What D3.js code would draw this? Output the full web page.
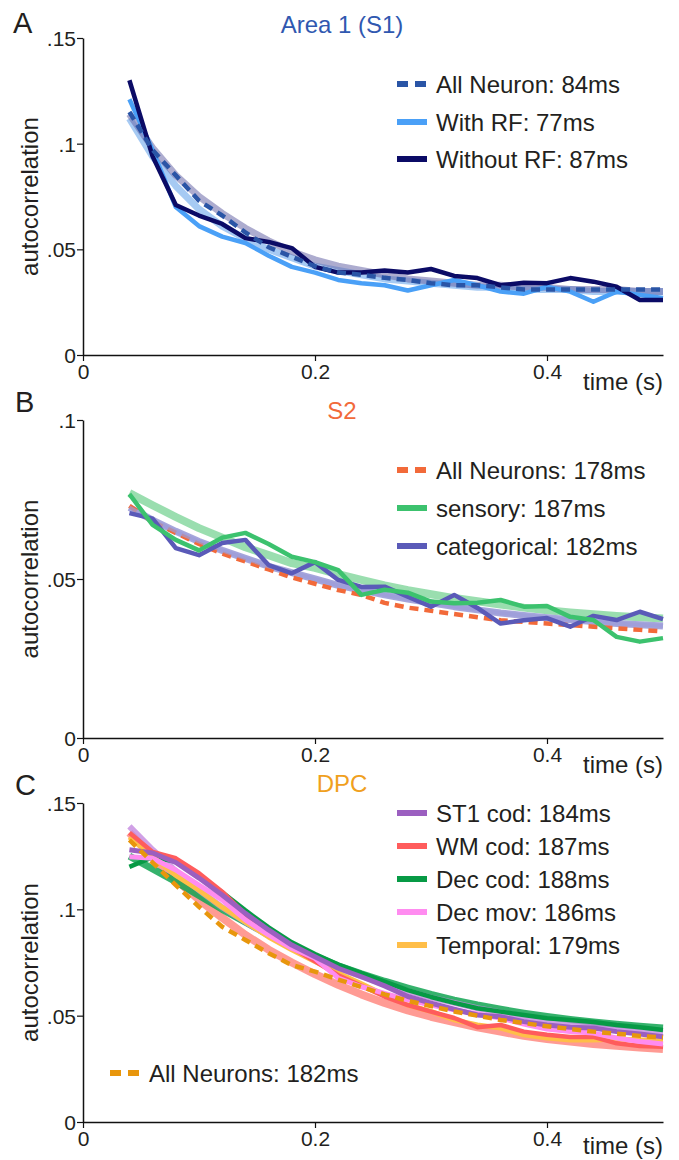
<!DOCTYPE html>
<html><head><meta charset="utf-8">
<script src="https://cdn.jsdelivr.net/npm/d3@7"></script>
<style>
body{margin:0;background:#fff;}
text{font-family:"Liberation Sans",Arial,sans-serif;fill:#231f20;}
</style></head>
<body><svg id="c" width="679" height="1160"></svg>
<script>
// ---------- DATA ----------
const lags = [0.04,0.06,0.08,0.10,0.12,0.14,0.16,0.18,0.20,0.22,0.24,0.26,0.28,0.30,0.32,0.34,0.36,0.38,0.40,0.42,0.44,0.46,0.48,0.50];
const xTicks = [0, 0.2, 0.4];
const xTickLabels = ["0", "0.2", "0.4"];

// Panel A: Area 1 (S1)
const aTicks = [0, 0.05, 0.1, 0.15];
const aTickLabels = ["0", ".05", ".1", ".15"];
const aAll      = [0.115,0.097,0.085,0.073,0.066,0.058,0.051,0.0465,0.042,0.039,0.038,0.0365,0.0355,0.034,0.033,0.033,0.032,0.031,0.031,0.031,0.031,0.031,0.031,0.031];
const aWithRF   = [0.121,0.097,0.070,0.061,0.056,0.053,0.047,0.0417,0.039,0.0355,0.034,0.033,0.0305,0.033,0.0355,0.033,0.030,0.029,0.0323,0.030,0.0252,0.030,0.0284,0.027];
const aWithout  = [0.130,0.094,0.071,0.066,0.062,0.0553,0.0535,0.0506,0.0417,0.039,0.039,0.040,0.039,0.0407,0.0374,0.0364,0.033,0.0342,0.034,0.0364,0.0347,0.0323,0.026,0.026];
const aFitWith  = [0.112,0.094,0.080,0.069,0.061,0.055,0.050,0.046,0.042,0.040,0.038,0.036,0.035,0.034,0.033,0.032,0.032,0.031,0.031,0.031,0.030,0.030,0.030,0.030];
const aFitAll   = [0.114,0.098,0.085,0.075,0.067,0.060,0.054,0.049,0.045,0.042,0.040,0.038,0.036,0.035,0.034,0.033,0.033,0.032,0.032,0.031,0.031,0.031,0.030,0.030];
const aLegend   = ["All Neuron: 84ms", "With RF: 77ms", "Without RF: 87ms"];

// Panel B: S2
const bTicks = [0, 0.05, 0.1];
const bTickLabels = ["0", ".05", ".1"];
const bAll      = [0.073,0.068,0.0645,0.061,0.058,0.0555,0.053,0.0505,0.0485,0.0465,0.045,0.0425,0.041,0.040,0.039,0.038,0.037,0.0365,0.036,0.0355,0.035,0.0345,0.034,0.0335];
const bSensory  = [0.0767,0.067,0.0623,0.059,0.063,0.0645,0.061,0.057,0.0553,0.0528,0.045,0.0466,0.0457,0.0429,0.0424,0.0425,0.0434,0.0413,0.0415,0.0381,0.0371,0.0318,0.0303,0.0314];
const bCateg    = [0.0707,0.069,0.0597,0.0575,0.0613,0.0623,0.0544,0.0518,0.0553,0.0497,0.0475,0.0476,0.0444,0.0413,0.045,0.0409,0.036,0.037,0.0377,0.035,0.0384,0.0371,0.0397,0.0374];
const bFitSens  = [0.077,0.0732,0.0695,0.066,0.063,0.060,0.0575,0.055,0.0535,0.0515,0.0497,0.048,0.0465,0.0452,0.044,0.043,0.042,0.041,0.0402,0.0395,0.0389,0.0384,0.038,0.0376];
const bFitCateg = [0.0725,0.0685,0.065,0.0618,0.059,0.0565,0.054,0.052,0.050,0.048,0.0465,0.045,0.0437,0.0425,0.0413,0.0403,0.0393,0.0385,0.0378,0.0372,0.0366,0.036,0.0356,0.0352];
const bLegend   = ["All Neurons: 178ms", "sensory: 187ms", "categorical: 182ms"];

// Panel C: DPC
const cTicks = [0, 0.05, 0.1, 0.15];
const cTickLabels = ["0", ".05", ".1", ".15"];
const cAll      = [0.1326,0.122,0.1114,0.1012,0.0918,0.0856,0.0794,0.0738,0.0707,0.067,0.0635,0.060,0.057,0.0545,0.052,0.050,0.048,0.0465,0.045,0.0437,0.0425,0.0415,0.0405,0.0397];
const cST1      = [0.128,0.1265,0.122,0.1147,0.1067,0.0981,0.0903,0.0832,0.0777,0.0723,0.0683,0.064,0.059,0.0559,0.053,0.0503,0.0495,0.0472,0.0456,0.0446,0.0442,0.0425,0.0414,0.0401];
const cWM       = [0.136,0.127,0.124,0.117,0.1083,0.0975,0.089,0.082,0.0755,0.069,0.064,0.059,0.055,0.0519,0.0489,0.0446,0.0456,0.0425,0.041,0.040,0.040,0.037,0.0357,0.0354];
const cDecCod   = [0.120,0.1245,0.1225,0.116,0.108,0.0995,0.0915,0.0845,0.079,0.074,0.070,0.066,0.062,0.0588,0.056,0.0535,0.0519,0.0503,0.0488,0.048,0.047,0.0456,0.0446,0.0433];
const cDecMov   = [0.1247,0.124,0.1185,0.1114,0.1044,0.095,0.088,0.0817,0.077,0.0677,0.0636,0.0605,0.0574,0.055,0.0527,0.0508,0.0489,0.046,0.0437,0.0425,0.0418,0.0395,0.0378,0.0367];
const cTemporal = [0.134,0.1247,0.116,0.109,0.101,0.094,0.087,0.081,0.0755,0.070,0.065,0.0597,0.055,0.052,0.048,0.0456,0.0442,0.041,0.0395,0.0386,0.0386,0.039,0.0386,0.0386];
const cFitST1   = [0.139,0.128,0.118,0.109,0.101,0.094,0.0875,0.082,0.077,0.0725,0.0685,0.065,0.0615,0.0585,0.056,0.0535,0.0515,0.0495,0.048,0.0465,0.045,0.044,0.043,0.042];
const cFitWM    = [0.136,0.1245,0.114,0.1045,0.096,0.088,0.081,0.075,0.0695,0.0645,0.060,0.056,0.0525,0.0495,0.047,0.0445,0.0425,0.0405,0.039,0.0378,0.0367,0.0358,0.035,0.0343];
const cFitDec   = [0.125,0.119,0.113,0.1065,0.100,0.094,0.088,0.0825,0.078,0.0735,0.0697,0.0662,0.063,0.060,0.0573,0.055,0.053,0.0512,0.0496,0.0482,0.047,0.046,0.045,0.0442];
const cLegend   = ["ST1 cod: 184ms", "WM cod: 187ms", "Dec cod: 188ms", "Dec mov: 186ms", "Temporal: 179ms"];
const cLegendAll = "All Neurons: 182ms";

// ---------- DRAW ----------
const svg = d3.select("#c");
const x = d3.scaleLinear().domain([0, 0.5]).range([83, 663]);

function panel(o) {
  const y = d3.scaleLinear().domain([0, o.ymax]).range([o.y0, o.y1]);
  const g = svg.append("g");
  const line = d3.line().x((d, i) => x(lags[i])).y(d => y(d));

  g.append("text").attr("x", o.letterX).attr("y", o.letterY).attr("font-size", 29).text(o.letter);
  g.append("text").attr("x", 342).attr("y", o.titleY).attr("text-anchor", "middle")
    .attr("font-size", 24).style("fill", o.titleColor).text(o.title);

  const ya = d3.axisLeft(y).tickValues(o.ticks).tickFormat((d, i) => o.tickLabels[i]).tickSize(6).tickSizeOuter(0);
  const yg = g.append("g").attr("transform", "translate(83,0)").call(ya);
  const xa = d3.axisBottom(x).tickValues(xTicks).tickFormat((d, i) => xTickLabels[i]).tickSize(6).tickSizeOuter(0);
  const xg = g.append("g").attr("transform", `translate(0,${o.y0})`).call(xa);
  [yg, xg].forEach(a => {
    a.select(".domain").attr("stroke", "#111").attr("stroke-width", 1.5);
    a.selectAll(".tick line").attr("stroke", "#111").attr("stroke-width", 1.2);
    a.selectAll(".tick text").attr("font-size", 21).attr("font-family", "Liberation Sans, Arial, sans-serif").style("fill", "#231f20");
  });
  yg.selectAll(".tick text").attr("x", -7).attr("dy", "0.35em");
  xg.selectAll(".tick text").attr("y", 6).attr("dy", "0.85em");

  g.append("text").attr("transform", `translate(38,${(o.y0 + o.y1) / 2}) rotate(-90)`)
    .attr("text-anchor", "middle").attr("font-size", 24).text("autocorrelation");
  g.append("text").attr("x", 663).attr("y", o.timeY).attr("text-anchor", "end")
    .attr("font-size", 24).text("time (s)");

  o.series.forEach(s => {
    g.append("path").datum(s.data).attr("d", line).attr("fill", "none")
      .attr("stroke", s.color).attr("stroke-width", s.width)
      .attr("stroke-opacity", s.opacity == null ? 1 : s.opacity)
      .attr("stroke-dasharray", s.dash || null)
      .attr("stroke-linejoin", "round");
  });

  o.legend.forEach(L => {
    g.append("line").attr("x1", L.x).attr("x2", L.x + 30).attr("y1", L.y).attr("y2", L.y)
      .attr("stroke", L.color).attr("stroke-width", 6).attr("stroke-dasharray", L.dash ? "11,7" : null);
    g.append("text").attr("x", L.x + 39).attr("y", L.y).attr("dy", "0.36em").attr("font-size", 24).text(L.label);
  });
}

panel({
  letter: "A", letterX: 13, letterY: 33, title: "Area 1 (S1)", titleY: 33, titleColor: "#3058b0",
  ymax: 0.15, y0: 355, y1: 38, ticks: aTicks, tickLabels: aTickLabels, timeY: 390,
  series: [
    {data: aFitWith, color: "#9cc4f2", width: 7, opacity: 0.9},
    {data: aFitAll, color: "#6a68a8", width: 7, opacity: 0.55},
    {data: aWithRF, color: "#4aa0f7", width: 4.5},
    {data: aWithout, color: "#0b0b66", width: 4.5},
    {data: aAll, color: "#2a55a6", width: 4.5, dash: "9,6"}
  ],
  legend: [
    {x: 397, y: 84, color: "#2a55a6", dash: true, label: aLegend[0]},
    {x: 397, y: 122, color: "#4aa0f7", label: aLegend[1]},
    {x: 397, y: 159, color: "#0b0b66", label: aLegend[2]}
  ]
});

panel({
  letter: "B", letterX: 15, letterY: 412, title: "S2", titleY: 419, titleColor: "#f26a3a",
  ymax: 0.1, y0: 738, y1: 420, ticks: bTicks, tickLabels: bTickLabels, timeY: 773,
  series: [
    {data: bFitSens, color: "#8fdaa6", width: 8, opacity: 0.9},
    {data: bFitCateg, color: "#9c9cd8", width: 7, opacity: 0.9},
    {data: bAll, color: "#f26a3a", width: 4.5, dash: "9,6"},
    {data: bFitCateg, color: "#9c9cd8", width: 4, opacity: 0.7},
    {data: bCateg, color: "#5a5ab8", width: 4.5},
    {data: bSensory, color: "#3cc26e", width: 4.5}
  ],
  legend: [
    {x: 397, y: 470, color: "#f26a3a", dash: true, label: bLegend[0]},
    {x: 397, y: 508, color: "#3cc26e", label: bLegend[1]},
    {x: 397, y: 546, color: "#5a5ab8", label: bLegend[2]}
  ]
});

panel({
  letter: "C", letterX: 15, letterY: 795, title: "DPC", titleY: 792, titleColor: "#f0a01e",
  ymax: 0.15, y0: 1122, y1: 803, ticks: cTicks, tickLabels: cTickLabels, timeY: 1154,
  series: [
    {data: cFitWM, color: "#ff7a70", width: 8, opacity: 0.75},
    {data: cFitDec, color: "#12a552", width: 7, opacity: 0.85},
    {data: cFitST1, color: "#c488e0", width: 6, opacity: 0.8},
    {data: cDecCod, color: "#079a45", width: 4.5},
    {data: cTemporal, color: "#ffbe48", width: 5},
    {data: cWM, color: "#ff5c5c", width: 4.5},
    {data: cDecMov, color: "#ff8cf0", width: 5},
    {data: cST1, color: "#9b5fc0", width: 5},
    {data: cAll, color: "#e8960c", width: 4.5, dash: "9,6"}
  ],
  legend: [
    {x: 397, y: 813, color: "#9b5fc0", label: cLegend[0]},
    {x: 397, y: 846, color: "#ff5c5c", label: cLegend[1]},
    {x: 397, y: 879, color: "#079a45", label: cLegend[2]},
    {x: 397, y: 912, color: "#ff8cf0", label: cLegend[3]},
    {x: 397, y: 945, color: "#ffbe48", label: cLegend[4]},
    {x: 110, y: 1073, color: "#e8960c", dash: true, label: cLegendAll}
  ]
});
</script></body></html>
